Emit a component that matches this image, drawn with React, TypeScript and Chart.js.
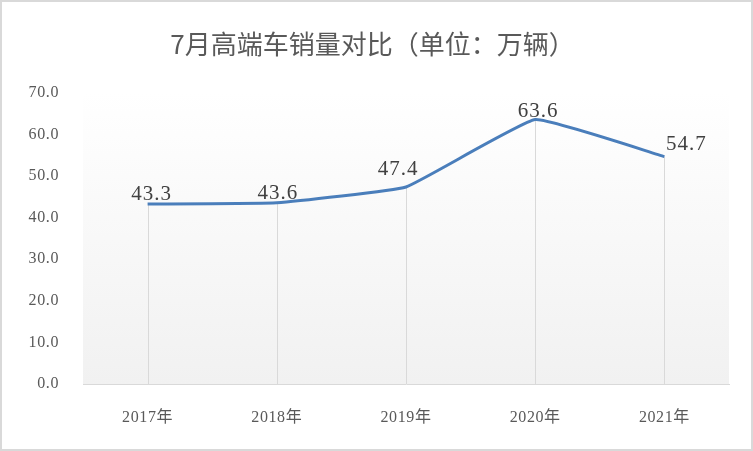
import React, { useEffect, useRef } from "react";
import { Chart, registerables, Plugin } from "chart.js";

Chart.register(...registerables);

const years = ["2017年", "2018年", "2019年", "2020年", "2021年"];
const sales = [43.3, 43.6, 47.4, 63.6, 54.7];
const yTicks = [0, 10, 20, 30, 40, 50, 60, 70];

// small nudges so the value labels sit where Excel put them
const labelNudge: [number, number][] = [
  [4, -4],
  [1, -4],
  [-8, -12],
  [3, -3],
  [22, -7],
];

const SERIF = "'Times New Roman', 'Liberation Serif', 'Noto Sans CJK SC', serif";

// plot background gradient + drop lines under the series
const backdrop: Plugin<"line"> = {
  id: "backdrop",
  beforeDraw(chart) {
    // Excel-ish loose text spacing for ticks
    (chart.ctx as any).letterSpacing = "0.6px";
  },
  beforeDatasetsDraw(chart) {
    const { ctx, chartArea } = chart;
    const yScale = chart.scales.y;
    const g = ctx.createLinearGradient(0, chartArea.top, 0, chartArea.bottom);
    g.addColorStop(0, "#ffffff");
    g.addColorStop(1, "#f1f1f1");
    ctx.save();
    ctx.fillStyle = g;
    ctx.fillRect(chartArea.left, chartArea.top, chartArea.right - chartArea.left, chartArea.bottom - chartArea.top);
    ctx.strokeStyle = "#d9d9d9";
    ctx.lineWidth = 1;
    const meta = chart.getDatasetMeta(0);
    meta.data.forEach((pt) => {
      const x = Math.round(pt.x) + 0.5;
      ctx.beginPath();
      ctx.moveTo(x, pt.y);
      ctx.lineTo(x, yScale.getPixelForValue(0));
      ctx.stroke();
    });
    ctx.restore();
  },
};

const valueLabels: Plugin<"line"> = {
  id: "valueLabels",
  afterDatasetsDraw(chart) {
    const { ctx } = chart;
    const meta = chart.getDatasetMeta(0);
    ctx.save();
    ctx.font = `21px ${SERIF}`;
    (ctx as any).letterSpacing = "1px";
    ctx.fillStyle = "#404040";
    ctx.textAlign = "center";
    ctx.textBaseline = "alphabetic";
    meta.data.forEach((pt, i) => {
      const [dx, dy] = labelNudge[i] || [0, -4];
      ctx.fillText(sales[i].toFixed(1), pt.x + dx, pt.y + dy);
    });
    ctx.restore();
  },
};

export default function App() {
  const canvasRef = useRef<HTMLCanvasElement>(null);

  useEffect(() => {
    document.body.style.margin = "0";
    if (!canvasRef.current) return;
    const chart = new Chart(canvasRef.current, {
      type: "line",
      data: {
        labels: years,
        datasets: [
          {
            data: sales,
            borderColor: "#4a7ebb",
            borderWidth: 3,
            pointRadius: 0,
            tension: 0.1,
            fill: false,
          },
        ],
      },
      options: {
        responsive: false,
        animation: false,
        layout: { padding: { top: 91, right: 22, left: 0, bottom: 0 } },
        plugins: {
          legend: { display: false },
          title: { display: false },
          tooltip: { enabled: false },
        },
        scales: {
          x: {
            offset: true,
            grid: { display: false, drawTicks: false },
            border: { display: true, color: "#d9d9d9", width: 1 },
            ticks: {
              color: "#595959",
              font: { family: SERIF, size: 16 },
              padding: 24,
            },
            afterFit(scale) {
              scale.height = 65;
            },
          },
          y: {
            min: 0,
            max: 70,
            afterBuildTicks(scale) {
              scale.ticks = yTicks.map((v) => ({ value: v }));
            },
            grid: { display: false, drawTicks: false },
            border: { display: false },
            ticks: {
              color: "#595959",
              font: { family: SERIF, size: 16 },
              padding: 24,
              callback: (v) => Number(v).toFixed(1),
            },
            afterFit(scale) {
              scale.width = 81;
            },
          },
        },
      },
      plugins: [backdrop, valueLabels],
    });
    return () => {
      chart.destroy();
    };
  }, []);

  return (
    <div
      style={{
        position: "relative",
        width: 753,
        height: 451,
        boxSizing: "border-box",
        border: "2px solid #d9d9d9",
        background: "#ffffff",
        overflow: "hidden",
      }}
    >
      <div
        style={{
          position: "absolute",
          left: 0,
          right: 8,
          top: 26,
          textAlign: "center",
          fontFamily: "'Noto Sans CJK SC', 'Noto Sans', sans-serif",
          fontSize: 26,
          lineHeight: "30px",
          color: "#595959",
          whiteSpace: "nowrap",
        }}
      >
        7月高端车销量对比（单位：万辆）
      </div>
      <canvas ref={canvasRef} width={749} height={447} style={{ display: "block" }} />
    </div>
  );
}
